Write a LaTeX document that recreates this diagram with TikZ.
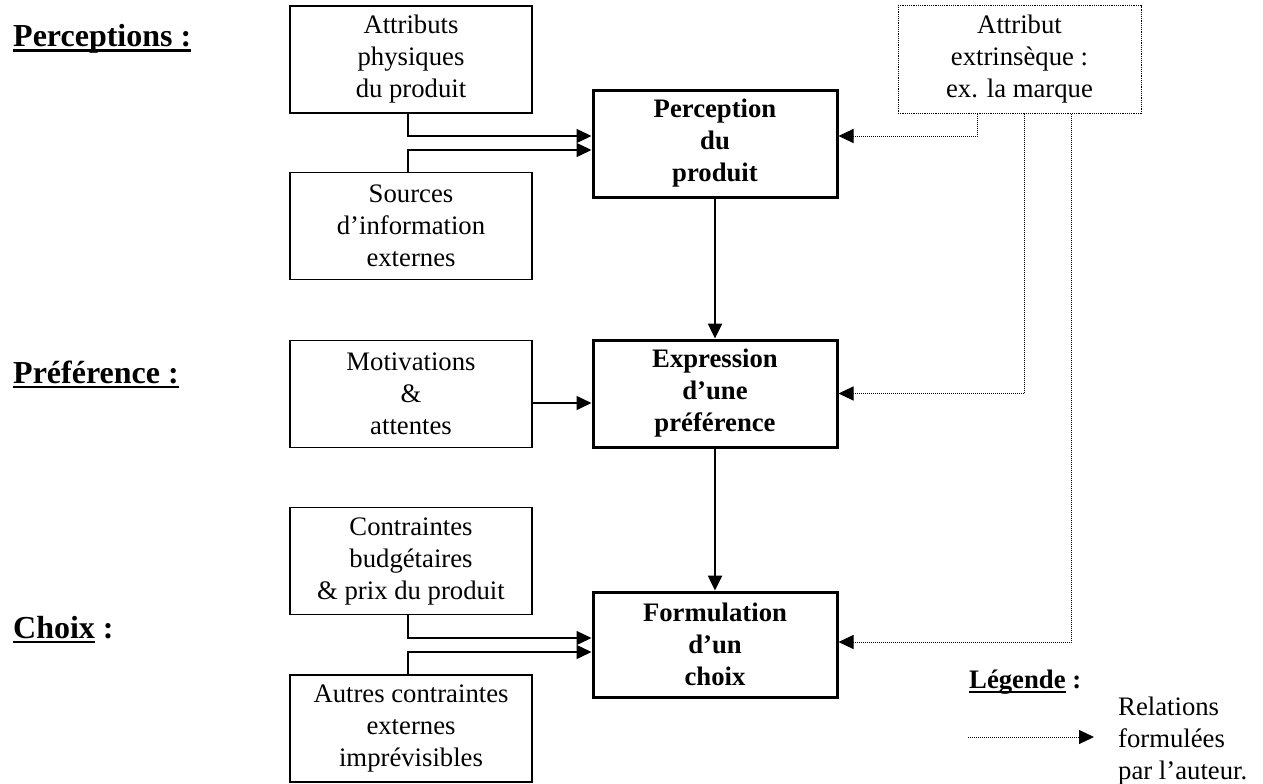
\documentclass[tikz,border=0pt]{standalone}
\usepackage{fontspec}
\setmainfont{Liberation Serif}
\usetikzlibrary{arrows.meta}
\newcommand\myul[1]{\setbox0\hbox{#1}\rlap{\rule[-5pt]{\wd0}{2.5pt}}\box0\relax}
\begin{document}
\begin{tikzpicture}[x=1pt,y=-1pt,
  box/.style={draw, line width=1.2pt, minimum width=242pt, minimum height=107pt, align=center, inner sep=0pt, font=\fontsize{26.7}{32}\selectfont},
  bbox/.style={box, line width=3pt, minimum width=244pt, font=\fontsize{26.7}{32}\selectfont\bfseries},
  dbox/.style={box, densely dotted, line width=1pt, minimum width=243pt},
  arr/.style={-{Triangle[length=15pt,width=14pt]}, line width=1.3pt},
  marr/.style={-{Triangle[length=15pt,width=14pt]}, line width=2.5pt},
  darr/.style={-{Triangle[length=15pt,width=14pt]}, densely dotted, line width=1pt},
  lbl/.style={anchor=base west, inner sep=0pt, font=\fontsize{32}{36}\selectfont\bfseries},
  txt/.style={inner sep=0pt, align=left, font=\fontsize{26.7}{32}\selectfont}]
\useasboundingbox (0,0) rectangle (1263,784);
% boxes
\node[box] (attr) at (411,59.5) {Attributs\\physiques\\du produit};
\node[box] (src) at (411,226) {Sources\\d’information\\externes};
\node[box] (motiv) at (411,394) {Motivations\\\&\\attentes};
\node[box] (contr) at (411,561) {Contraintes\\budgétaires\\\& prix du produit};
\node[box] (autres) at (411,728.5) {Autres contraintes\\externes\\imprévisibles};
\node[bbox] (perc) at (715,143.5) {Perception\\du\\produit};
\node[bbox] (expr) at (715,393.5) {Expression\\d’une\\préférence};
\node[bbox, minimum height=105pt] (form) at (715,644.5) {Formulation\\d’un\\choix};
\node[dbox] (ext) at (1019.5,59.5) {Attribut\\extrinsèque :\\ex. la marque};
% left labels
\node[lbl] (lp) at (13,47) {\myul{Perceptions :}};
\node[lbl] (lpr) at (13,383) {\myul{Préférence :}};
\node[lbl] (lc) at (13,638) {\myul{Choix} :};
% solid connectors
\draw[arr] ([xshift=-3pt]attr.south) |- ([yshift=7.5pt]perc.west);
\draw[arr] ([xshift=-3pt]src.north) |- ([yshift=-6.5pt]perc.west);
\draw[arr] ([yshift=-9pt]motiv.east) -- ([yshift=-9pt]motiv.east -| expr.west);
\draw[arr] ([xshift=-3pt]contr.south) |- ([yshift=6.5pt]form.west);
\draw[arr] ([xshift=-3pt]autres.north) |- ([yshift=-7.5pt]form.west);
\draw[marr] (perc.south) -- (expr.north);
\draw[marr] (expr.south) -- (form.north);
% dotted connectors
\draw[darr] ([xshift=-42.5pt]ext.south) |- ([yshift=7.5pt]perc.east);
\draw[darr] ([xshift=4.5pt]ext.south) |- (expr.east);
\draw[darr] ([xshift=51.5pt]ext.south) |- ([yshift=2.5pt]form.east);
% legend
\node[lbl, anchor=west, font=\fontsize{26.7}{32}\selectfont\bfseries] (leg) at (969,682) {\myul{Légende} :};
\node[txt, anchor=west] (rel) at (1118,741) {Relations\\formulées\\par l’auteur.};
\coordinate (la) at (968,737);
\coordinate (lb) at (1094,737);
\draw[darr] (la) -- (lb);
\end{tikzpicture}
\end{document}
